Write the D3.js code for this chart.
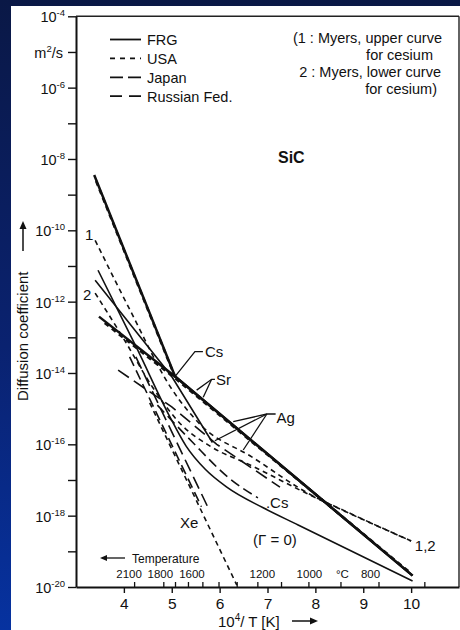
<!DOCTYPE html>
<html><head><meta charset="utf-8">
<script src="https://cdn.jsdelivr.net/npm/d3@7"></script>
<style>
html,body{margin:0;padding:0;background:#0a1848;}
svg{display:block;}
text{font-family:"Liberation Sans",Arial,sans-serif;fill:#111;}
</style></head><body>
<svg id="c" width="460" height="630"></svg>
<script>
// ---------- data ----------
const yExps = [-4,-5,-6,-7,-8,-9,-10,-11,-12,-13,-14,-15,-16,-17,-18,-19,-20];
const yLabelExps = [-4,-6,-8,-10,-12,-14,-16,-18,-20];
const yUnitExp = -5;
const xTicks = [4,5,6,7,8,9,10];
const tempTicks = [2100,1800,1700,1600,1500,1400,1300,1200,1100,1000,900,800,700];
const tempLabelValues = [2100,1800,1600,1200,1000,900,800];
const tempLabelTexts = ["2100","1800","1600","1200","1000","°C","800"];
const legendNames = ["FRG","USA","Japan","Russian Fed."];
const noteLines = ["(1 : Myers, upper curve","for cesium","2 : Myers, lower curve","for cesium)"];

// series: [10^4/T, log10 D]
const frgCs     = [[3.38,-8.45],[5.07,-14.1],[10.03,-19.68]];
const frgSr     = [[3.48,-12.42],[5.07,-14.1],[10.03,-19.68]];
const frgGamma0 = [[3.46,-11.12],[4.29,-13.36],[4.95,-15.2],[5.3,-16.05],[5.7,-16.7],[6.15,-17.2],[6.91,-17.78],[7.64,-18.26],[10.03,-19.83]];
const frgAg     = [[3.40,-11.40],[5.0,-14.1],[5.85,-15.95]];
const usaSteep  = [[3.42,-8.62],[5.07,-14.12]];
const usaStraight = [[3.6,-12.6],[5.07,-14.15],[10.0,-19.62]];
const usaMyers1 = [[3.40,-10.28],[4.13,-12.24],[5.0,-14.45],[5.6,-15.45],[6.67,-16.35],[7.885,-17.4],[8.652,-17.89],[10.0,-18.71]];
const usaMyers2 = [[3.40,-11.76],[4.0,-13.05],[4.6,-14.4],[5.2,-15.45],[5.8,-16.05],[6.67,-16.6],[7.885,-17.42],[8.652,-17.9],[10.0,-18.71]];
const usaXe     = [[4.54,-14.84],[6.36,-19.95]];
const jpXe      = [[4.12,-13.55],[5.62,-17.75]];
const jpCs      = [[4.7,-14.9],[5.44,-15.95],[6.2,-16.95],[6.8,-17.5]];
const ruXe      = [[4.25,-13.55],[5.75,-17.75]];
const ruAg      = [[3.88,-13.92],[5.0,-14.95],[5.94,-16.0],[7.26,-17.2]];

const series = [
  {name:"frgCs", country:"FRG", pts:frgCs},
  {name:"frgSr", country:"FRG", pts:frgSr},
  {name:"frgGamma0", country:"FRG", pts:frgGamma0},
  {name:"frgAg", country:"FRG", pts:frgAg},
  {name:"usaSteep", country:"USA", pts:usaSteep},
  {name:"usaStraight", country:"USA", pts:usaStraight},
  {name:"usaMyers1", country:"USA", pts:usaMyers1},
  {name:"usaMyers2", country:"USA", pts:usaMyers2},
  {name:"usaXe", country:"USA", pts:usaXe},
  {name:"jpXe", country:"Japan", pts:jpXe},
  {name:"jpCs", country:"Japan", pts:jpCs},
  {name:"ruXe", country:"Russian Fed.", pts:ruXe},
  {name:"ruAg", country:"Russian Fed.", pts:ruAg}
];

// annotations: label text, anchor point [x, logD]
const annCs  = {text:"Cs", at:[5.693,-13.55], leader:[[[5.651,-13.403],[5.484,-13.403],[5.067,-14.104]]]};
const annSr  = {text:"Sr", at:[5.923,-14.34], leader:[[[5.902,-14.177],[5.833,-14.177],[5.52,-14.48]],[[5.833,-14.177],[5.658,-14.68]]]};
const annAg  = {text:"Ag", at:[7.19,-15.40], leader:[[[7.17,-15.15],[6.987,-15.15],[6.284,-15.365]],[[6.987,-15.15],[5.90,-15.90]],[[6.987,-15.15],[6.493,-16.159]]]};
const plainLabels = [
  {text:".Cs", at:[6.967,-17.785], anchor:"start"},
  {text:"(Γ = 0)", at:[7.155,-18.82], anchor:"middle"},
  {text:"1,2", at:[10.077,-18.99], anchor:"start"},
  {text:"1", at:[3.188,-10.27], anchor:"start"},
  {text:"2", at:[3.146,-11.95], anchor:"start"},
  {text:"Xe", at:[5.171,-18.35], anchor:"start"}
];

// ---------- drawing ----------
const svg = d3.select("#c");
const defs = svg.append("defs");
const grad = defs.append("linearGradient").attr("id","bg").attr("x1",0).attr("y1",0).attr("x2",0).attr("y2",1);
grad.append("stop").attr("offset","0%").attr("stop-color","#0a1846");
grad.append("stop").attr("offset","55%").attr("stop-color","#0a2270");
grad.append("stop").attr("offset","100%").attr("stop-color","#0632a0");
svg.append("rect").attr("width",460).attr("height",630).attr("fill","url(#bg)");
svg.append("rect").attr("x",11).attr("y",6).attr("width",449).attr("height",624).attr("fill","#fff");

const L=76, R=459, T=16.3, B=587;
const x = d3.scaleLinear().domain([3,11]).range([L,R]);
const y = d3.scaleLog().domain([1e-20,1e-4]).range([B,T]);
const px = d => x(d[0]);
const py = d => y(Math.pow(10,d[1]));

defs.append("clipPath").attr("id","clip").append("rect").attr("x",L).attr("y",T).attr("width",R-L).attr("height",B-T);

const dashes = {"FRG":null,"USA":"5,4","Japan":"10,5","Russian Fed.":"13,6"};
const legendDashes = {"FRG":null,"USA":"5,5","Japan":"13,5","Russian Fed.":"12,7"};
const thick = new Set(["frgCs","frgSr","usaSteep","usaStraight"]);
const curved = new Set(["frgGamma0","usaMyers1","usaMyers2","jpCs"]);

const gLines = svg.append("g").attr("clip-path","url(#clip)");
series.forEach(s=>{
  const line = d3.line().x(px).y(py).curve(curved.has(s.name)?d3.curveMonotoneX:d3.curveLinear);
  gLines.append("path").datum(s.pts).attr("d",line)
    .attr("fill","none").attr("stroke","#111")
    .attr("stroke-width", thick.has(s.name)?2.5:1.6)
    .attr("stroke-dasharray", dashes[s.country])
    .attr("stroke-linecap","butt");
});

// frame
svg.append("line").attr("x1",L).attr("x2",R).attr("y1",T).attr("y2",T).attr("stroke","#222").attr("stroke-width",1.4);
svg.append("line").attr("x1",R).attr("x2",R).attr("y1",T).attr("y2",B).attr("stroke","#222").attr("stroke-width",1.4);

// y axis
const yAxis = d3.axisLeft(y).tickValues(yExps.map(e=>Math.pow(10,e))).tickSize(8).tickSizeOuter(0).tickFormat(()=> "");
const gy = svg.append("g").attr("transform",`translate(${L},0)`).call(yAxis);
gy.select(".domain").attr("stroke","#111").attr("stroke-width",2);
gy.selectAll(".tick line").attr("stroke","#111").attr("stroke-width",1.4);
yLabelExps.forEach(e=>{
  const t = svg.append("text").attr("x",65).attr("y",y(Math.pow(10,e))+6).attr("text-anchor","end").attr("font-size",14.5);
  t.append("tspan").text("10");
  t.append("tspan").attr("dy",-6).attr("font-size",9.5).text(String(e));
});
{
  const t = svg.append("text").attr("x",63).attr("y",y(Math.pow(10,yUnitExp))+6).attr("text-anchor","end").attr("font-size",14.5);
  t.append("tspan").text("m");
  t.append("tspan").attr("dy",-6).attr("font-size",9.5).text("2");
  t.append("tspan").attr("dy",6).text("/s");
}

// x axis
const xAxis = d3.axisBottom(x).tickValues(xTicks).tickSize(6).tickSizeOuter(0).tickPadding(5).tickFormat(d3.format("d"));
const gx = svg.append("g").attr("transform",`translate(0,${B})`).call(xAxis);
gx.select(".domain").attr("stroke","#111").attr("stroke-width",2);
gx.selectAll(".tick line").attr("stroke","#111").attr("stroke-width",1.4);
gx.selectAll(".tick text").attr("font-size",15.5).attr("font-family","Liberation Sans, Arial, sans-serif").attr("fill","#111");

// temperature ticks (inside)
const tAxis = d3.axisTop(x).tickValues(tempTicks.map(t=>1e4/(t+273.15))).tickSize(5).tickSizeOuter(0).tickFormat(()=> "");
const gt = svg.append("g").attr("transform",`translate(0,${B})`).call(tAxis);
gt.select(".domain").remove();
gt.selectAll(".tick line").attr("stroke","#111").attr("stroke-width",1.3);
const tempDx = [-5,-3,4,5,1,2,-8];
tempLabelValues.forEach((t,i)=>{
  svg.append("text").attr("x",x(1e4/(t+273.15))+tempDx[i]).attr("y",578).attr("text-anchor","middle")
    .attr("font-size",11.5).text(tempLabelTexts[i]);
});
// temperature caption with arrow
svg.append("line").attr("x1",104).attr("x2",125).attr("y1",558).attr("y2",558).attr("stroke","#111").attr("stroke-width",1.3);
svg.append("path").attr("d","M100,558 L107,555 L107,561 Z").attr("fill","#111");
svg.append("text").attr("x",132).attr("y",562.5).attr("font-size",12).text("Temperature");

// x axis title
{
  const t = svg.append("text").attr("x",218).attr("y",627).attr("font-size",15);
  t.append("tspan").text("10");
  t.append("tspan").attr("dy",-6).attr("font-size",10).text("4");
  t.append("tspan").attr("dy",6).text("/ T [K]");
  svg.append("line").attr("x1",292).attr("x2",311).attr("y1",621).attr("y2",621).attr("stroke","#111").attr("stroke-width",1.5);
  svg.append("path").attr("d","M318,621 L310,617.5 L310,624.5 Z").attr("fill","#111");
}
// y axis title
{
  const g = svg.append("g").attr("transform","translate(28,401) rotate(-90)");
  g.append("text").attr("x",0).attr("y",0).attr("font-size",15).text("Diffusion coefficient");
  g.append("line").attr("x1",150).attr("x2",172).attr("y1",-5).attr("y2",-5).attr("stroke","#111").attr("stroke-width",1.5);
  g.append("path").attr("d","M180,-5 L172,-8.5 L172,-1.5 Z").attr("fill","#111");
}

// legend
legendNames.forEach((n,i)=>{
  const yy = 45 + i*18.9;
  svg.append("line").attr("x1",110).attr("x2",141).attr("y1",yy-5.5).attr("y2",yy-5.5)
    .attr("stroke","#111").attr("stroke-width",1.8).attr("stroke-dasharray",legendDashes[n]);
  svg.append("text").attr("x",147).attr("y",yy).attr("font-size",14.5).text(n);
});
// note
const noteRight = [442,433,441,437];
noteLines.forEach((s,i)=>{
  svg.append("text").attr("x",noteRight[i]).attr("y",42.5+i*17.3).attr("text-anchor","end").attr("font-size",14.5).text(s);
});
svg.append("text").attr("x",278).attr("y",163).attr("font-size",16).attr("font-weight","bold").text("SiC");

// annotations
const lineGen = d3.line().x(px).y(py);
[annCs,annSr,annAg].forEach(a=>{
  a.leader.forEach(l=>{
    svg.append("path").datum(l).attr("d",lineGen).attr("fill","none").attr("stroke","#111").attr("stroke-width",1.3);
  });
  svg.append("text").attr("x",px(a.at)).attr("y",py(a.at)).attr("font-size",15).text(a.text);
});
plainLabels.forEach(a=>{
  svg.append("text").attr("x",px(a.at)).attr("y",py(a.at)).attr("text-anchor",a.anchor).attr("font-size",15).text(a.text);
});
</script>
</body></html>
